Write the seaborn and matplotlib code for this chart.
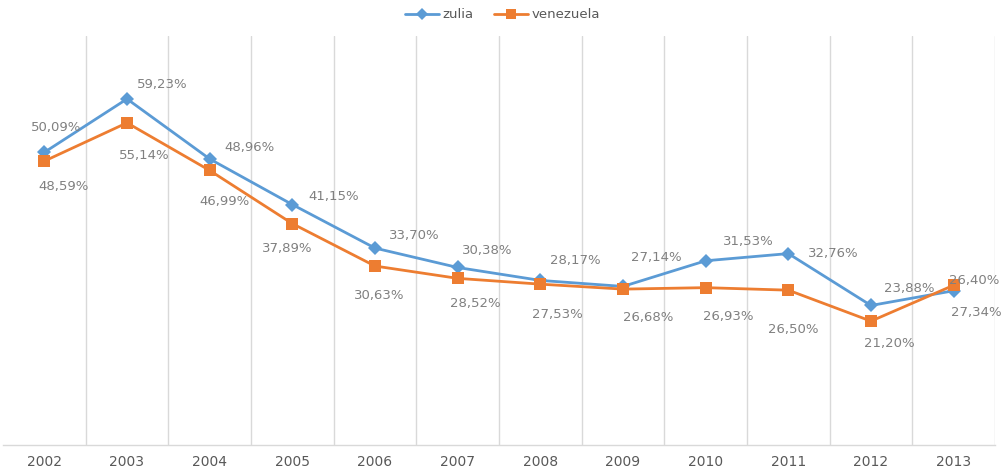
import matplotlib
matplotlib.use("Agg")
import matplotlib.pyplot as plt
import seaborn as sns
import pandas as pd
from matplotlib.lines import Line2D

years = ["2002", "2003", "2004", "2005", "2006", "2007", "2008", "2009", "2010", "2011", "2012", "2013"]
zulia = [50.09, 59.23, 48.96, 41.15, 33.70, 30.38, 28.17, 27.14, 31.53, 32.76, 23.88, 26.40]
venezuela = [48.59, 55.14, 46.99, 37.89, 30.63, 28.52, 27.53, 26.68, 26.93, 26.50, 21.20, 27.34]
series_names = ["zulia", "venezuela"]

# label placement (pixels, x right / y up) — styling only
zulia_label_off = [(12, 25), (35, 14), (40, 11), (41, 8), (39, 13), (30, 17),
                   (35, 20), (33, 29), (43, 19), (45, 0), (38, 17), (21, 10)]
venezuela_label_off = [(19, -25), (17, -33), (15, -31), (-5, -25), (4, -29), (18, -25),
                       (17, -30), (25, -28), (23, -29), (5, -39), (18, -22), (23, -27)]

BLUE = "#5B9BD5"
ORANGE = "#ED7D31"
GRID = "#D9D9D9"
TXT = "#808080"

sns.set_theme(style="white")
plt.rcParams["font.family"] = ["DejaVu Sans"]

df = pd.DataFrame({
    "year": years * 2,
    "value": zulia + venezuela,
    "serie": ["zulia"] * len(years) + ["venezuela"] * len(years),
})

fig = plt.figure(figsize=(10.05, 4.72), dpi=100)
ax = fig.add_axes([3 / 1005, 1 - 445 / 472, 992 / 1005, (445 - 36) / 472])

sns.lineplot(data=df, x="year", y="value", hue="serie", style="serie",
             markers={"zulia": "D", "venezuela": "s"}, dashes=False,
             palette={"zulia": BLUE, "venezuela": ORANGE},
             hue_order=series_names, style_order=series_names,
             linewidth=2.0, markeredgewidth=0, ax=ax, legend=False)
for ln in ax.lines:
    if ln.get_marker() == "s":
        ln.set_markersize(8)
    else:
        ln.set_markersize(7.5)

ax.set_xlim(-0.5, len(years) - 0.5)
ax.set_ylim(0, 70)
ax.set_yticks([])
ax.set_xlabel("")
ax.set_ylabel("")
for b in [i + 0.5 for i in range(len(years))]:
    ax.axvline(b, color=GRID, linewidth=1, zorder=0)
for s in ["top", "left", "right"]:
    ax.spines[s].set_visible(False)
ax.spines["bottom"].set_color(GRID)
ax.spines["bottom"].set_linewidth(1)
ax.tick_params(axis="x", length=0, pad=7, labelsize=10, labelcolor="#595959")
ax.set_xticks(range(len(years)))
ax.set_xticklabels(years)

def fmt(v):
    return f"{v:.2f}".replace(".", ",") + "%"

for i, v in enumerate(zulia):
    ax.annotate(fmt(v), (i, v), xytext=zulia_label_off[i], textcoords="offset pixels",
                ha="center", va="center", fontsize=9.5, color=TXT, zorder=5)
for i, v in enumerate(venezuela):
    ax.annotate(fmt(v), (i, v), xytext=venezuela_label_off[i], textcoords="offset pixels",
                ha="center", va="center", fontsize=9.5, color=TXT, zorder=5)

handles = [
    Line2D([], [], color=BLUE, marker="D", markersize=6, linewidth=2, markeredgewidth=0),
    Line2D([], [], color=ORANGE, marker="s", markersize=7, linewidth=2, markeredgewidth=0),
]
fig.legend(handles, series_names, loc="center", bbox_to_anchor=(0.5, 1 - 15 / 472),
           ncol=2, frameon=False, fontsize=9.5, labelcolor="#595959",
           handlelength=2.6, columnspacing=1.5, handletextpad=0.3)

fig.savefig("out.png", dpi=100)
